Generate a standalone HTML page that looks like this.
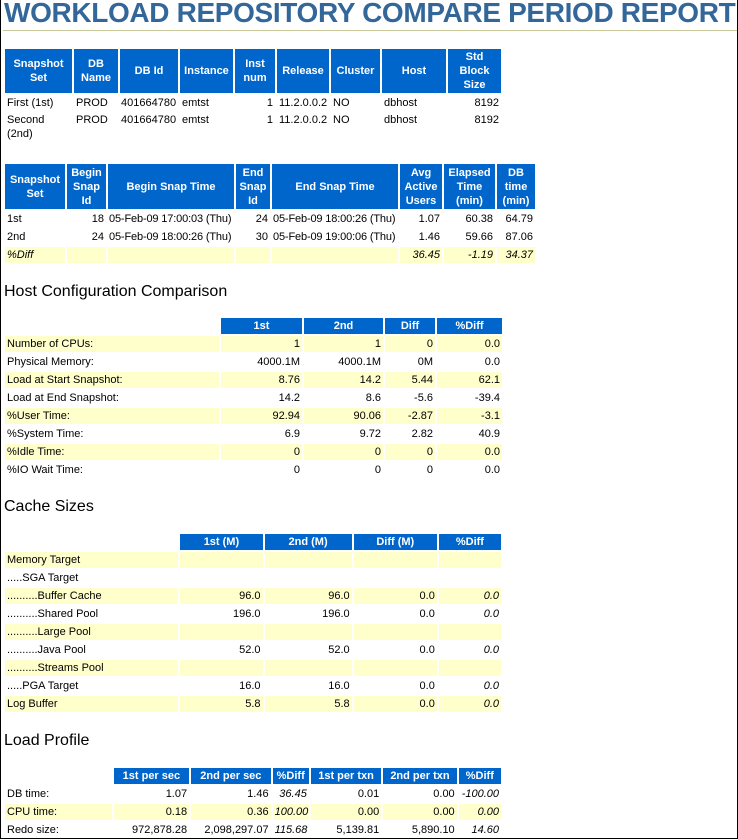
<!DOCTYPE html>
<html><head><meta charset="utf-8"><style>
html,body{margin:0;padding:0;background:#fff;}
body{width:738px;height:840px;position:relative;overflow:hidden;font-family:"Liberation Sans",Arial,sans-serif;font-size:11px;color:#000;}
.frame{position:absolute;left:0;top:-2px;width:736px;height:840px;border:1px solid #000;border-top:none;box-sizing:content-box;}
h1{position:absolute;left:4px;top:-3px;margin:0;font-size:28px;font-weight:bold;color:#336699;letter-spacing:-0.35px;white-space:nowrap;}
.rule{position:absolute;left:3px;top:30px;width:734px;height:1px;background:#c8c89a;}
h2{position:absolute;left:4px;margin:0;font-size:16px;font-weight:normal;color:#000;}
table{position:absolute;left:3px;border-collapse:separate;border-spacing:2px;table-layout:fixed;}
td,th{padding:0 2px;line-height:14px;height:16px;white-space:nowrap;overflow:hidden;}
th{background:#0066cc;color:#fff;font-weight:bold;text-align:center;vertical-align:middle;}
th.e{background:#fff;}
td.r{text-align:right;}
td.t{padding:0 0 0 1px;letter-spacing:-0.15px;}
tr.y td,td.y{background:#ffffcc;}
.i{font-style:italic;}
</style></head><body>
<div class="frame"></div>
<h1>WORKLOAD REPOSITORY COMPARE PERIOD REPORT</h1>
<div class="rule"></div>

<table style="top:47px;width:500px">
<colgroup><col style="width:67px"><col style="width:44px"><col style="width:58px"><col style="width:53px"><col style="width:40px"><col style="width:52px"><col style="width:49px"><col style="width:64px"><col style="width:53px"></colgroup>
<tr style="height:44px"><th>Snapshot<br>Set</th><th>DB<br>Name</th><th>DB Id</th><th>Instance</th><th>Inst<br>num</th><th>Release</th><th>Cluster</th><th>Host</th><th>Std<br>Block<br>Size</th></tr>
<tr><td>First (1st)</td><td>PROD</td><td style="padding:0 1px">401664780</td><td>emtst</td><td class="r">1</td><td>11.2.0.0.2</td><td>NO</td><td>dbhost</td><td class="r">8192</td></tr>
<tr><td style="vertical-align:top;height:28px">Second<br>(2nd)</td><td style="vertical-align:top">PROD</td><td style="vertical-align:top;padding:0 1px">401664780</td><td style="vertical-align:top">emtst</td><td class="r" style="vertical-align:top">1</td><td style="vertical-align:top">11.2.0.0.2</td><td style="vertical-align:top">NO</td><td style="vertical-align:top">dbhost</td><td class="r" style="vertical-align:top">8192</td></tr>
</table>

<table style="top:162px;width:534px">
<colgroup><col style="width:60px"><col style="width:39px"><col style="width:126px"><col style="width:34px"><col style="width:126px"><col style="width:42px"><col style="width:51px"><col style="width:38px"></colgroup>
<tr style="height:45px"><th>Snapshot<br>Set</th><th>Begin<br>Snap<br>Id</th><th>Begin Snap Time</th><th>End<br>Snap<br>Id</th><th>End Snap Time</th><th>Avg<br>Active<br>Users</th><th>Elapsed<br>Time<br>(min)</th><th>DB<br>time<br>(min)</th></tr>
<tr><td>1st</td><td class="r">18</td><td class="t">05-Feb-09 17:00:03 (Thu)</td><td class="r">24</td><td class="t">05-Feb-09 18:00:26 (Thu)</td><td class="r">1.07</td><td class="r">60.38</td><td class="r">64.79</td></tr>
<tr><td>2nd</td><td class="r">24</td><td class="t">05-Feb-09 18:00:26 (Thu)</td><td class="r">30</td><td class="t">05-Feb-09 19:00:06 (Thu)</td><td class="r">1.46</td><td class="r">59.66</td><td class="r">87.06</td></tr>
<tr class="y i"><td>%Diff</td><td></td><td></td><td></td><td></td><td class="r">36.45</td><td class="r">-1.19</td><td class="r">34.37</td></tr>
</table>

<h2 style="top:283px">Host Configuration Comparison</h2>
<table style="top:316px;width:500px">
<colgroup><col style="width:214px"><col style="width:81px"><col style="width:79px"><col style="width:50px"><col style="width:65px"></colgroup>
<tr><th class="e"></th><th>1st</th><th>2nd</th><th>Diff</th><th>%Diff</th></tr>
<tr class="y"><td>Number of CPUs:</td><td class="r">1</td><td class="r">1</td><td class="r">0</td><td class="r">0.0</td></tr>
<tr><td>Physical Memory:</td><td class="r">4000.1M</td><td class="r">4000.1M</td><td class="r">0M</td><td class="r">0.0</td></tr>
<tr class="y"><td>Load at Start Snapshot:</td><td class="r">8.76</td><td class="r">14.2</td><td class="r">5.44</td><td class="r">62.1</td></tr>
<tr><td>Load at End Snapshot:</td><td class="r">14.2</td><td class="r">8.6</td><td class="r">-5.6</td><td class="r">-39.4</td></tr>
<tr class="y"><td>%User Time:</td><td class="r">92.94</td><td class="r">90.06</td><td class="r">-2.87</td><td class="r">-3.1</td></tr>
<tr><td>%System Time:</td><td class="r">6.9</td><td class="r">9.72</td><td class="r">2.82</td><td class="r">40.9</td></tr>
<tr class="y"><td>%Idle Time:</td><td class="r">0</td><td class="r">0</td><td class="r">0</td><td class="r">0.0</td></tr>
<tr><td>%IO Wait Time:</td><td class="r">0</td><td class="r">0</td><td class="r">0</td><td class="r">0.0</td></tr>
</table>

<h2 style="top:498px">Cache Sizes</h2>
<table style="top:532px;width:500px">
<colgroup><col style="width:173px"><col style="width:82px"><col style="width:87px"><col style="width:83px"><col style="width:62px"></colgroup>
<tr><th class="e"></th><th>1st (M)</th><th>2nd (M)</th><th>Diff (M)</th><th>%Diff</th></tr>
<tr class="y"><td>Memory Target</td><td></td><td></td><td></td><td></td></tr>
<tr><td>.....SGA Target</td><td></td><td></td><td></td><td></td></tr>
<tr class="y"><td>..........Buffer Cache</td><td class="r">96.0</td><td class="r">96.0</td><td class="r">0.0</td><td class="r i">0.0</td></tr>
<tr><td>..........Shared Pool</td><td class="r">196.0</td><td class="r">196.0</td><td class="r">0.0</td><td class="r i">0.0</td></tr>
<tr class="y"><td>..........Large Pool</td><td></td><td></td><td></td><td></td></tr>
<tr><td>..........Java Pool</td><td class="r">52.0</td><td class="r">52.0</td><td class="r">0.0</td><td class="r i">0.0</td></tr>
<tr class="y"><td>..........Streams Pool</td><td></td><td></td><td></td><td></td></tr>
<tr><td>.....PGA Target</td><td class="r">16.0</td><td class="r">16.0</td><td class="r">0.0</td><td class="r i">0.0</td></tr>
<tr class="y"><td>Log Buffer</td><td class="r">5.8</td><td class="r">5.8</td><td class="r">0.0</td><td class="r i">0.0</td></tr>
</table>

<h2 style="top:732px">Load Profile</h2>
<table style="top:766px;width:500px">
<colgroup><col style="width:106px"><col style="width:75px"><col style="width:79px"><col style="width:36px"><col style="width:70px"><col style="width:73px"><col style="width:42px"></colgroup>
<tr><th class="e"></th><th>1st per sec</th><th>2nd per sec</th><th>%Diff</th><th>1st per txn</th><th>2nd per txn</th><th>%Diff</th></tr>
<tr><td>DB time:</td><td class="r">1.07</td><td class="r">1.46</td><td class="r i">36.45</td><td class="r">0.01</td><td class="r">0.00</td><td class="r i">-100.00</td></tr>
<tr class="y"><td>CPU time:</td><td class="r">0.18</td><td class="r">0.36</td><td class="r i">100.00</td><td class="r">0.00</td><td class="r">0.00</td><td class="r i">0.00</td></tr>
<tr><td>Redo size:</td><td class="r">972,878.28</td><td class="r">2,098,297.07</td><td class="r i">115.68</td><td class="r">5,139.81</td><td class="r">5,890.10</td><td class="r i">14.60</td></tr>
</table>
</body></html>
